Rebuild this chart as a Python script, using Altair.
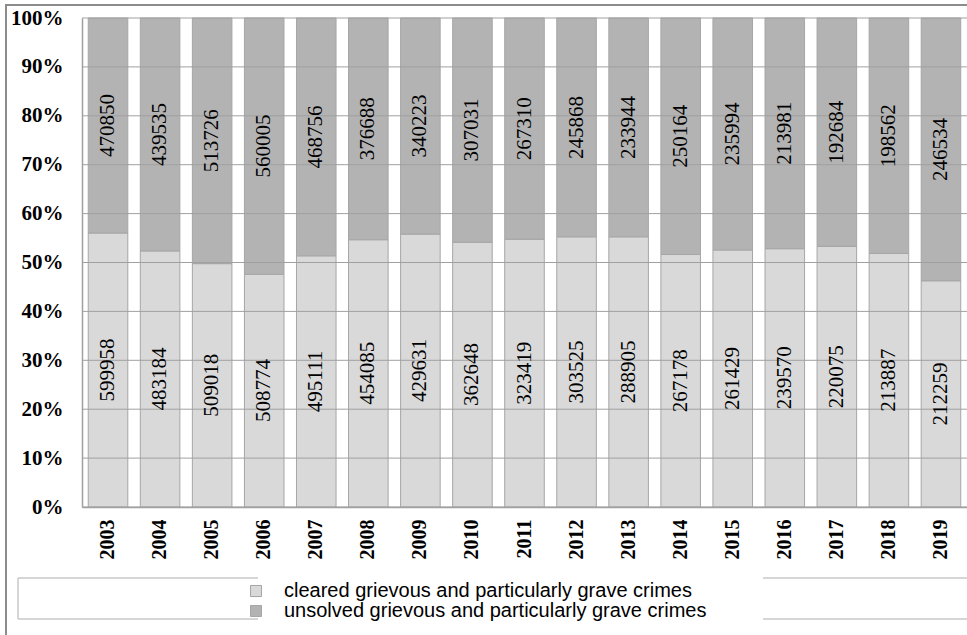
import altair as alt
import pandas as pd

years = [str(y) for y in range(2003, 2020)]
cleared = [599958, 483184, 509018, 508774, 495111, 454085, 429631, 362648, 323419,
           303525, 288905, 267178, 261429, 239570, 220075, 213887, 212259]
unsolved = [470850, 439535, 513726, 560005, 468756, 376688, 340223, 307031, 267310,
            245868, 233944, 250164, 235994, 213981, 192684, 198562, 246534]
series = ["cleared grievous and particularly grave crimes",
          "unsolved grievous and particularly grave crimes"]
colors = ["#d9d9d9", "#b3b3b3"]
y_ticks = [0, 0.1, 0.2, 0.3, 0.4, 0.5, 0.6, 0.7, 0.8, 0.9, 1.0]

rows = []
for i, yr in enumerate(years):
    rows.append({"year": yr, "series": series[0], "value": cleared[i], "order": 0})
    rows.append({"year": yr, "series": series[1], "value": unsolved[i], "order": 1})
df = pd.DataFrame(rows)

W, H = 885, 489

x_enc = alt.X(
    "year:N", title=None, sort=years,
    scale=alt.Scale(paddingInner=0.24, paddingOuter=0.12),
    axis=alt.Axis(labelAngle=270, labelFont="Liberation Serif", labelFontWeight="bold",
                  labelFontSize=20, labelColor="black", labelPadding=12, ticks=False,
                  domainColor="#a0a0a0", domainWidth=1.5),
)
y_axis = alt.Axis(format=".0%", values=y_ticks, grid=False, ticks=False,
                  labelFont="Liberation Serif", labelFontWeight="bold",
                  labelFontSize=21, labelColor="black", labelPadding=19,
                  domainColor="#a0a0a0", domainWidth=1.5)
y_scale = alt.Scale(domain=[0, 1], nice=False)

base = alt.Chart(df)

bars = base.mark_bar(stroke="#a6a6a6", strokeWidth=1).encode(
    x=x_enc,
    y=alt.Y("value:Q", stack="normalize", title=None, scale=y_scale, axis=y_axis),
    color=alt.Color(
        "series:N",
        scale=alt.Scale(domain=series, range=colors),
        legend=alt.Legend(title=None, orient="none", legendX=164, legendY=563,
                          direction="vertical", symbolType="square", symbolSize=121,
                          symbolStrokeColor="#a6a6a6", symbolStrokeWidth=1,
                          labelFont="Liberation Sans", labelFontSize=20, labelColor="black",
                          labelOffset=18, rowPadding=0, padding=0, labelLimit=0),
    ),
    order=alt.Order("order:Q"),
)

grid = alt.Chart(alt.Data(values=[{"t": v} for v in y_ticks])).mark_rule(
    color="#a0a0a0", strokeWidth=1
).encode(y=alt.Y("t:Q", title=None, scale=y_scale, axis=y_axis))

labels = (
    base.transform_joinaggregate(total="sum(value)", groupby=["year"])
    .transform_calculate(pct="datum.value / datum.total")
    .transform_window(cum="sum(pct)", sort=[alt.SortField("order")],
                      groupby=["year"], frame=[None, 0])
    .transform_calculate(mid="datum.cum - datum.pct / 2")
    .mark_text(angle=270, font="Liberation Serif", fontSize=21, color="black")
    .encode(
        x=x_enc,
        y=alt.Y("mid:Q", title=None, scale=y_scale, axis=y_axis),
        text=alt.Text("value:Q", format="d"),
    )
)

one = alt.Data(values=[{}])
frame_color = "#8c8c8c"
box_color = "#c8c8c8"
deco = [
    alt.Chart(one).mark_rule(color=frame_color, strokeWidth=2).encode(
        x=alt.value(-77), x2=alt.value(W), y=alt.value(-13)),
    alt.Chart(one).mark_rule(color=frame_color, strokeWidth=2).encode(
        x=alt.value(-76), y=alt.value(-13), y2=alt.value(617)),
    alt.Chart(one).mark_rule(color=box_color, strokeWidth=1.5).encode(
        x=alt.value(-64), x2=alt.value(176), y=alt.value(560)),
    alt.Chart(one).mark_rule(color=box_color, strokeWidth=1.5).encode(
        x=alt.value(-64), x2=alt.value(176), y=alt.value(601)),
    alt.Chart(one).mark_rule(color=box_color, strokeWidth=1.5).encode(
        x=alt.value(-64), y=alt.value(560), y2=alt.value(601)),
    alt.Chart(one).mark_rule(color=box_color, strokeWidth=1.5).encode(
        x=alt.value(681), x2=alt.value(W), y=alt.value(560)),
    alt.Chart(one).mark_rule(color=box_color, strokeWidth=1.5).encode(
        x=alt.value(681), x2=alt.value(W), y=alt.value(601)),
]

chart = alt.layer(bars, grid, labels, *deco).properties(
    width=W, height=H,
    autosize=alt.AutoSizeParams(type="none"),
    padding={"left": 82, "top": 18, "right": 0, "bottom": 128},
    background="white",
).configure_view(stroke=None)

chart.save("out.html", embed_options={"renderer": "svg", "actions": False})
